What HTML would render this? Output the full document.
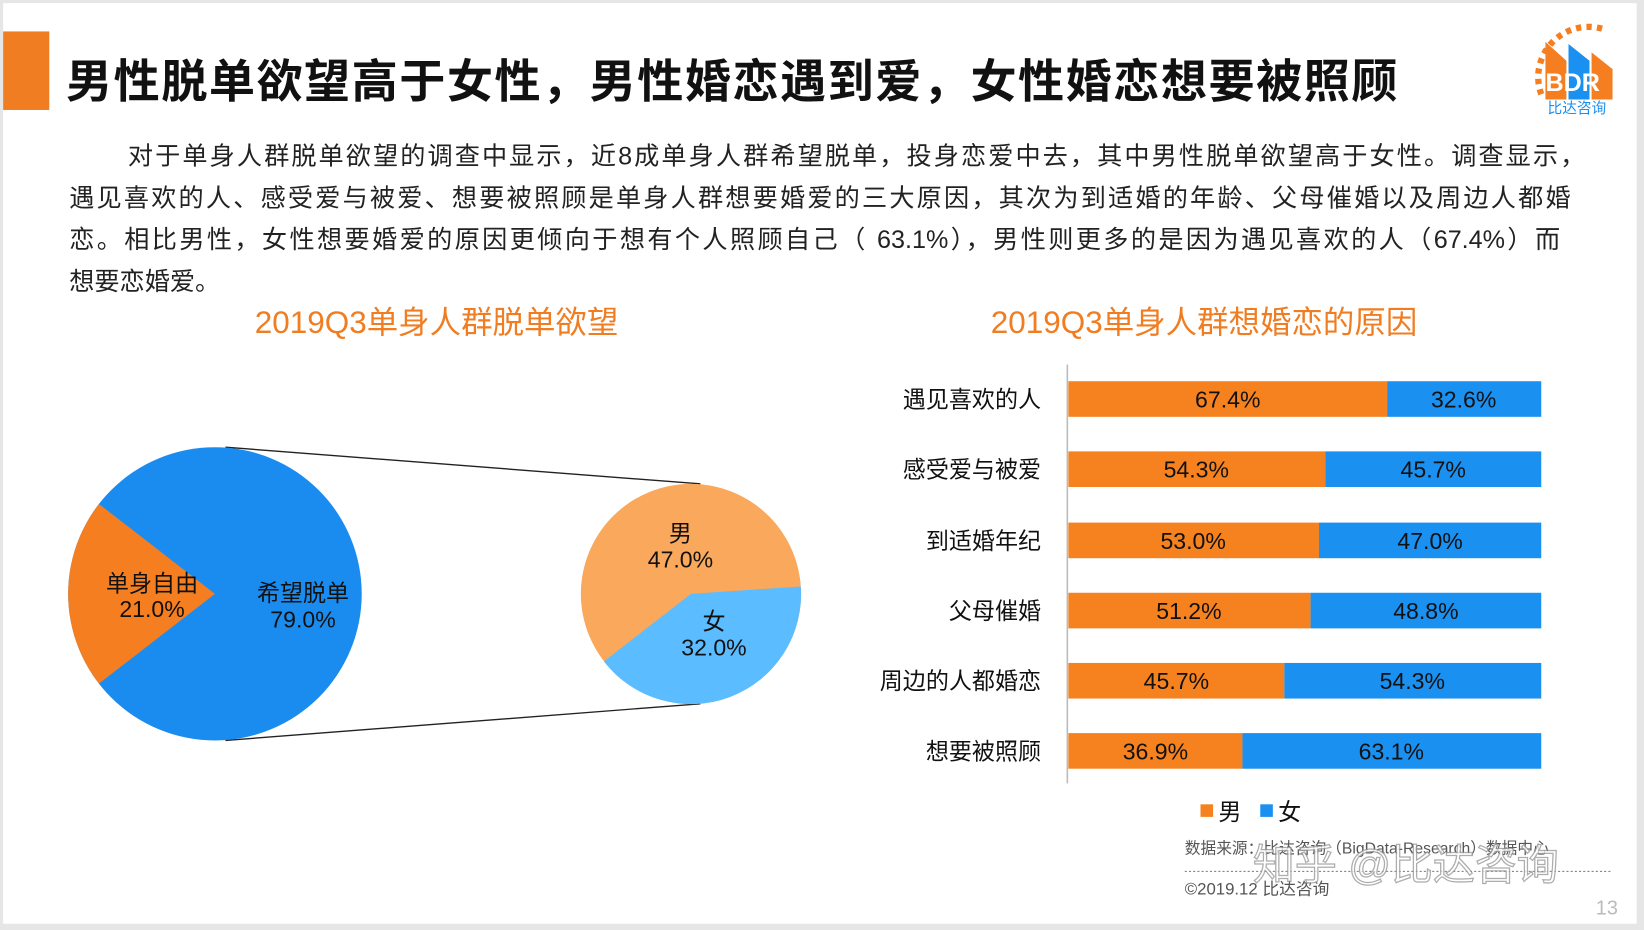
<!DOCTYPE html>
<html><head><meta charset="utf-8"><style>
html,body{margin:0;padding:0;background:#fff;overflow:hidden}
#w{width:1568px;height:888px;transform:scale(1.04847,1.04730);transform-origin:0 0;position:relative;background:#e6e6e6;font-family:"Liberation Sans","Noto Sans CJK SC",sans-serif}
#p{position:absolute;left:3px;top:3px;width:1558px;height:879px;background:#fff}
.a{position:absolute;white-space:nowrap}
.l{position:absolute;font-size:24px;line-height:30px;color:#222;text-align:justify;text-align-last:justify;white-space:nowrap}
</style></head><body><div id="w"><div id="p"></div>
<div class="a" style="left:3px;top:30px;width:44px;height:75px;background:#f07d22"></div>
<div class="a" style="left:63px;top:42px;font-size:44px;font-weight:bold;color:#111;letter-spacing:1.4px">男性脱单欲望高于女性，男性婚恋遇到爱，女性婚恋想要被照顾</div>
<div class="l" style="left:122px;top:135px;width:1390px">对于单身人群脱单欲望的调查中显示，近8成单身人群希望脱单，投身恋爱中去，其中男性脱单欲望高于女性。调查显示，</div>
<div class="l" style="left:66px;top:175px;width:1432px">遇见喜欢的人、感受爱与被爱、想要被照顾是单身人群想要婚爱的三大原因，其次为到适婚的年龄、父母催婚以及周边人都婚</div>
<div class="l" style="left:66px;top:215px;width:1422px">恋。相比男性，女性想要婚爱的原因更倾向于想有个人照顾自己（ 63.1%），男性则更多的是因为遇见喜欢的人（67.4%）而</div>
<div class="a" style="left:66px;top:255px;font-size:24px;line-height:30px;color:#222">想要恋婚爱。</div>
<div class="a" style="left:243px;top:283px;font-size:30px;color:#f07d22">2019Q3单身人群脱单欲望</div>
<div class="a" style="left:945px;top:283px;font-size:30px;color:#f07d22">2019Q3单身人群想婚恋的原因</div>
<svg class="a" style="left:0;top:0" width="1568" height="888" font-family="Liberation Sans,Noto Sans CJK SC,sans-serif">
<line x1="215" y1="427" x2="668" y2="462" stroke="#222" stroke-width="1.3"/>
<line x1="215" y1="707" x2="668" y2="672" stroke="#222" stroke-width="1.3"/>
<circle cx="205" cy="567" r="140" fill="#1a8cf0"/>
<path d="M205 567 L94.4 481.2 A140 140 0 0 0 94.4 652.8 Z" fill="#f57e20"/>
<circle cx="659" cy="567" r="105" fill="#f9a85c"/>
<path d="M659 567 L763.8 560 A105 105 0 0 1 576 631.6 Z" fill="#5bbcff"/>
<g font-size="22" fill="#111" text-anchor="middle">
<text x="145" y="565">单身自由</text><text x="145" y="589">21.0%</text>
<text x="289" y="574">希望脱单</text><text x="289" y="599">79.0%</text>
<text x="649" y="517">男</text><text x="649" y="542">47.0%</text>
<text x="681" y="601">女</text><text x="681" y="626">32.0%</text>
</g>
<line x1="1018" y1="348" x2="1018" y2="748" stroke="#bbb" stroke-width="1.5"/>
<g font-size="22" fill="#111">
<g text-anchor="end">
<text x="993" y="389">遇见喜欢的人</text><text x="993" y="456">感受爱与被爱</text><text x="993" y="524">到适婚年纪</text>
<text x="993" y="591">父母催婚</text><text x="993" y="658">周边的人都婚恋</text><text x="993" y="725">想要被照顾</text>
</g>
<rect x="1019" y="364" width="304" height="34" fill="#f5821f"/><rect x="1323" y="364" width="147" height="34" fill="#1a90f0"/>
<rect x="1019" y="431" width="245" height="34" fill="#f5821f"/><rect x="1264" y="431" width="206" height="34" fill="#1a90f0"/>
<rect x="1019" y="499" width="239" height="34" fill="#f5821f"/><rect x="1258" y="499" width="212" height="34" fill="#1a90f0"/>
<rect x="1019" y="566" width="231" height="34" fill="#f5821f"/><rect x="1250" y="566" width="220" height="34" fill="#1a90f0"/>
<rect x="1019" y="633" width="206" height="34" fill="#f5821f"/><rect x="1225" y="633" width="245" height="34" fill="#1a90f0"/>
<rect x="1019" y="700" width="166" height="34" fill="#f5821f"/><rect x="1185" y="700" width="285" height="34" fill="#1a90f0"/>
<g text-anchor="middle">
<text x="1171" y="389">67.4%</text><text x="1396" y="389">32.6%</text>
<text x="1141" y="456">54.3%</text><text x="1367" y="456">45.7%</text>
<text x="1138" y="524">53.0%</text><text x="1364" y="524">47.0%</text>
<text x="1134" y="591">51.2%</text><text x="1360" y="591">48.8%</text>
<text x="1122" y="658">45.7%</text><text x="1347" y="658">54.3%</text>
<text x="1102" y="725">36.9%</text><text x="1327" y="725">63.1%</text>
</g>
<rect x="1145" y="768" width="12" height="12" fill="#f5821f"/><text x="1162" y="783">男</text>
<rect x="1202" y="768" width="12" height="12" fill="#1a90f0"/><text x="1219" y="783">女</text>
</g>
<text x="1130" y="815" font-size="15" fill="#555">数据来源：比达咨询（BigData-Research）数据中心</text>
<line x1="1130" y1="832" x2="1538" y2="832" stroke="#777" stroke-dasharray="2 2"/>
<text x="1130" y="854" font-size="16" fill="#555">©2019.12 比达咨询</text>
<text x="1522" y="873" font-size="19" fill="#bbb">13</text>
<text x="1195" y="840" font-size="40" fill="#fff" stroke="#999" stroke-width="1.2" opacity="0.8">知乎 @比达咨询</text>
<g>
<path d="M1470 90 A48 48 0 0 1 1530 28" fill="none" stroke="#f57e20" stroke-width="6" stroke-dasharray="5 5"/>
<path d="M1474 40 L1494 58 L1494 95 L1474 95 Z" fill="#f57e20"/>
<path d="M1496 42 L1516 58 L1516 95 L1496 95 Z" fill="#1a90f0"/>
<path d="M1518 50 L1538 66 L1538 95 L1518 95 Z" fill="#f57e20"/>
<text x="1474" y="87" font-size="24" fill="#fff" font-weight="bold">BDR</text>
<text x="1476" y="108" font-size="14" fill="#1a90f0">比达咨询</text>
</g>
</svg>
</div></body></html>
